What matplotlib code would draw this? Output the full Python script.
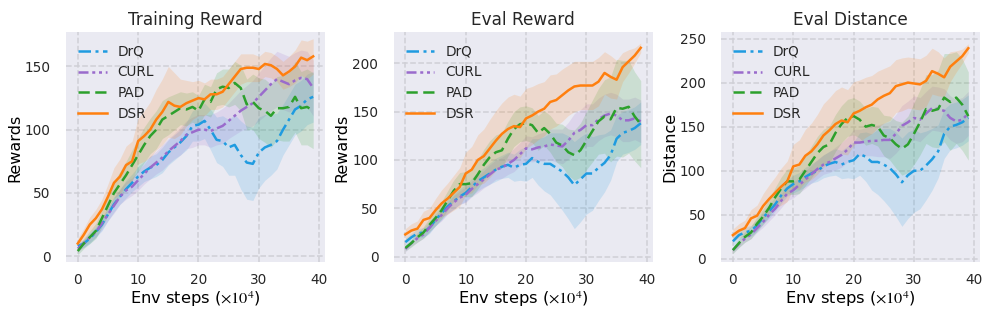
import numpy as np
import matplotlib
matplotlib.use("Agg")
import matplotlib.pyplot as plt
from matplotlib.ticker import MultipleLocator

steps = list(range(40))
methods = ["DrQ", "CURL", "PAD", "DSR"]

# ---- Training Reward ----
train_drq = [8, 10, 14, 19, 25, 33, 41, 47, 53, 58, 63, 67, 70, 72, 76, 82, 86, 90, 95, 103,
             104, 107, 100, 92, 91, 86, 88, 80, 74, 73, 82, 86, 88, 91, 100, 108, 116, 119, 124, 126]
train_curl = [6, 10, 15, 19, 26, 33, 40, 47, 52, 55, 60, 65, 70, 74, 78, 83, 87, 91, 96, 98,
              100, 100, 99, 101, 103, 107, 111, 115, 118, 121, 126, 131, 136, 140, 138, 136, 139, 141, 140, 133]
train_pad = [4, 10, 15, 20, 30, 40, 50, 57, 64, 72, 80, 88, 95, 100, 108, 111, 114, 117, 116, 118,
             115, 124, 122, 132, 134, 133, 137, 133, 120, 122, 117, 115, 111, 117, 117, 118, 126, 117, 118, 115]
train_dsr = [10, 17, 25, 30, 37, 47, 58, 63, 72, 75, 91, 95, 100, 108, 114, 122, 119, 118, 121, 123,
             125, 124, 128, 128, 130, 136, 142, 148, 149, 149, 148, 152, 151, 148, 143, 146, 150, 157, 155, 158]

train_drq_sd = [3, 3, 4, 4, 5, 5, 6, 6, 7, 7, 8, 8, 9, 9, 10, 10, 10, 10, 11, 12,
                13, 14, 16, 18, 20, 22, 24, 27, 29, 29, 28, 26, 24, 22, 20, 20, 20, 20, 20, 20]
train_curl_sd = [3, 3, 4, 4, 5, 5, 6, 6, 7, 7, 8, 8, 9, 9, 10, 10, 10, 11, 11, 12,
                 12, 12, 13, 13, 14, 14, 15, 16, 17, 18, 19, 20, 21, 22, 22, 22, 22, 22, 22, 22]
train_pad_sd = [3, 4, 5, 6, 7, 8, 9, 10, 11, 12, 13, 14, 14, 15, 15, 15, 14, 13, 13, 12,
                12, 12, 12, 13, 14, 15, 17, 18, 20, 22, 24, 25, 25, 25, 26, 27, 28, 29, 30, 30]
train_dsr_sd = [4, 5, 6, 7, 8, 10, 12, 14, 15, 16, 18, 20, 22, 24, 26, 28, 26, 22, 18, 15,
                14, 13, 12, 12, 12, 12, 12, 12, 11, 11, 10, 10, 10, 10, 11, 12, 13, 14, 15, 14]

# ---- Eval Reward ----
eval_drq = [15, 20, 24, 25, 30, 38, 45, 52, 57, 62, 66, 72, 78, 82, 86, 90, 93, 95, 92, 95,
            96, 102, 98, 96, 96, 92, 88, 82, 74, 80, 86, 86, 92, 97, 105, 122, 128, 130, 133, 138]
eval_curl = [8, 14, 19, 23, 30, 37, 43, 50, 56, 61, 64, 70, 75, 80, 85, 90, 92, 96, 100, 106,
             112, 111, 113, 114, 116, 115, 114, 120, 128, 131, 136, 136, 142, 146, 148, 146, 141, 141, 143, 140]
eval_pad = [9, 14, 20, 25, 33, 40, 48, 58, 68, 75, 75, 76, 85, 95, 103, 108, 110, 122, 132, 137,
            138, 136, 128, 133, 127, 118, 115, 108, 105, 110, 120, 130, 140, 145, 142, 154, 153, 155, 145, 137]
eval_dsr = [23, 27, 29, 38, 40, 48, 55, 60, 66, 72, 86, 90, 100, 104, 112, 120, 127, 132, 135, 134,
            143, 146, 150, 153, 160, 162, 167, 172, 176, 177, 177, 177, 181, 190, 186, 183, 196, 202, 208, 216]

eval_drq_sd = [4, 4, 5, 5, 6, 6, 7, 7, 8, 8, 9, 9, 10, 10, 11, 12, 12, 13, 14, 16,
               18, 20, 24, 28, 32, 36, 40, 43, 45, 44, 42, 38, 34, 30, 26, 24, 22, 22, 22, 22]
eval_curl_sd = [3, 3, 4, 4, 5, 5, 6, 6, 7, 7, 8, 8, 9, 9, 10, 10, 11, 11, 12, 12,
                13, 13, 14, 15, 16, 17, 18, 19, 20, 21, 22, 22, 22, 22, 22, 22, 22, 22, 22, 22]
eval_pad_sd = [3, 4, 5, 6, 7, 8, 9, 10, 11, 12, 13, 14, 15, 16, 17, 18, 18, 18, 18, 18,
               18, 18, 18, 18, 19, 20, 22, 24, 26, 28, 30, 32, 34, 38, 44, 50, 50, 48, 46, 45]
eval_dsr_sd = [6, 7, 8, 9, 10, 12, 14, 16, 18, 20, 22, 24, 26, 28, 30, 31, 32, 33, 33, 32,
               31, 30, 29, 28, 28, 27, 27, 26, 26, 25, 25, 25, 25, 22, 22, 20, 15, 12, 8, 5]

# ---- Eval Distance ----
dist_drq = [20, 27, 30, 32, 38, 47, 54, 62, 72, 80, 85, 88, 93, 97, 100, 105, 108, 110, 107, 110,
            112, 119, 116, 110, 110, 107, 103, 96, 87, 95, 100, 100, 106, 113, 122, 142, 150, 152, 155, 160]
dist_curl = [10, 17, 23, 28, 35, 42, 50, 57, 66, 74, 78, 84, 90, 96, 102, 107, 110, 114, 118, 124,
             132, 132, 133, 134, 134, 135, 135, 142, 151, 155, 160, 158, 165, 171, 170, 168, 160, 156, 158, 165]
dist_pad = [10, 18, 25, 30, 40, 48, 58, 70, 80, 88, 88, 90, 100, 110, 120, 127, 130, 143, 153, 160,
            162, 158, 150, 152, 150, 140, 137, 130, 125, 130, 142, 155, 170, 168, 170, 183, 178, 183, 175, 162]
dist_dsr = [27, 32, 35, 46, 49, 60, 68, 75, 82, 88, 105, 107, 117, 122, 130, 140, 146, 153, 157, 155,
            165, 168, 172, 175, 181, 185, 188, 196, 198, 200, 199, 198, 202, 213, 210, 206, 218, 224, 230, 239]

dist_drq_sd = [5, 5, 6, 6, 7, 7, 8, 8, 9, 9, 10, 10, 11, 11, 12, 13, 14, 15, 16, 18,
               21, 24, 28, 32, 37, 41, 45, 48, 50, 49, 47, 43, 39, 35, 30, 28, 26, 26, 26, 26]
dist_curl_sd = [3, 4, 4, 5, 5, 6, 7, 7, 8, 8, 9, 9, 10, 10, 11, 11, 12, 13, 14, 14,
                15, 15, 16, 17, 18, 19, 21, 22, 23, 24, 25, 25, 25, 25, 25, 25, 25, 25, 25, 25]
dist_pad_sd = [4, 5, 6, 7, 8, 9, 10, 11, 13, 14, 15, 16, 17, 18, 19, 20, 21, 21, 21, 21,
               21, 21, 21, 21, 22, 23, 25, 27, 30, 32, 35, 37, 39, 41, 44, 50, 55, 52, 52, 50]
dist_dsr_sd = [7, 8, 9, 10, 12, 14, 16, 18, 21, 23, 25, 28, 30, 32, 34, 36, 37, 38, 38, 37,
               36, 35, 34, 33, 32, 31, 31, 30, 30, 29, 29, 29, 29, 26, 25, 22, 17, 12, 8, 5]

panels = [
    ("Training Reward", "Rewards", (-5, 177), [train_drq, train_curl, train_pad, train_dsr],
     [train_drq_sd, train_curl_sd, train_pad_sd, train_dsr_sd]),
    ("Eval Reward", "Rewards", (-6, 232), [eval_drq, eval_curl, eval_pad, eval_dsr],
     [eval_drq_sd, eval_curl_sd, eval_pad_sd, eval_dsr_sd]),
    ("Eval Distance", "Distance", (-4, 257), [dist_drq, dist_curl, dist_pad, dist_dsr],
     [dist_drq_sd, dist_curl_sd, dist_pad_sd, dist_dsr_sd]),
]

colors = ["#1f9be0", "#9a6bcc", "#2ca02c", "#ff7f0e"]
styles = [(0, (5, 1.8, 1.2, 1.8)), (0, (4, 1.5, 1.2, 1.5, 1.2, 1.5)), (0, (4.5, 2.2)), "-"]

plt.rcParams["mathtext.fontset"] = "stix"
plt.rcParams["text.color"] = "#262626"
plt.rcParams["xtick.color"] = "#262626"
plt.rcParams["ytick.color"] = "#262626"

fig, axes = plt.subplots(1, 3, figsize=(9.85, 3.17), dpi=100)
fig.subplots_adjust(left=0.067, right=0.995, bottom=0.172, top=0.898, wspace=0.265)

for ax, (title, ylabel, ylim, series, sds) in zip(axes, panels):
    ax.set_facecolor("#eaeaf2")
    for spine in ax.spines.values():
        spine.set_visible(False)
    ax.grid(True, color="#cfcfd6", linestyle="--", linewidth=1.1)
    ax.set_axisbelow(True)
    x = np.array(steps)
    for name, vals, sd, c, ls in zip(methods, series, sds, colors, styles):
        v = np.array(vals)
        s = np.array(sd)
        ax.fill_between(x, v - s, v + s, color=c, alpha=0.16, linewidth=0)
        ax.plot(x, v, color=c, linestyle=ls, linewidth=1.8, label=name)
    ax.set_title(title, fontsize=12.2, pad=5)
    ax.set_ylabel(ylabel, fontsize=11.5, labelpad=2)
    ax.set_xlabel(r"Env steps ($\times10^4$)", fontsize=11.7, labelpad=2)
    ax.set_xticks([0, 10, 20, 30, 40])
    ax.yaxis.set_major_locator(MultipleLocator(50))
    ax.set_ylim(*ylim)
    ax.tick_params(axis="x", length=0, labelsize=9.8, pad=7.5)
    ax.tick_params(axis="y", length=0, labelsize=9.8, pad=11)
    ax.legend(loc="upper left", frameon=False, fontsize=9.8, handlelength=2.1)

fig.savefig("out.png", dpi=100)
